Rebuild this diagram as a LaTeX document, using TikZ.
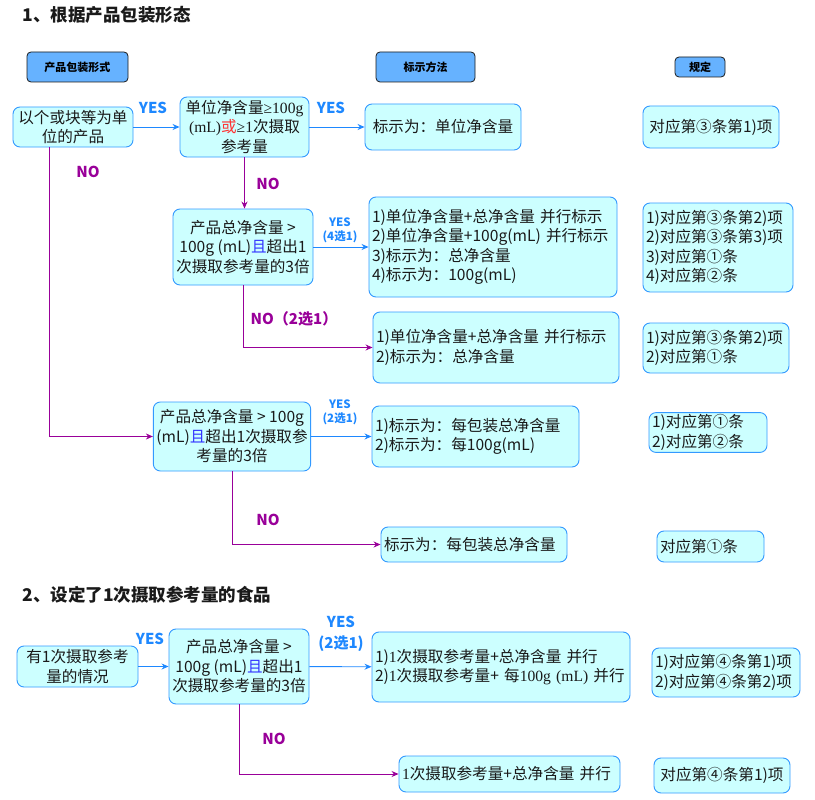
\documentclass[tikz,border=0pt]{standalone}
\usepackage{fontspec}
\setmainfont{Noto Sans CJK SC}
\newfontfamily\serifnum{Liberation Serif}
\usetikzlibrary{positioning,arrows.meta}
\definecolor{boxfill}{HTML}{CCFFFF}
\definecolor{boxblue}{HTML}{3399FF}
\definecolor{headfill}{HTML}{66B2FF}
\definecolor{yesblue}{HTML}{1E88FF}
\definecolor{nopurple}{HTML}{990099}
\definecolor{orred}{HTML}{FF3333}
\definecolor{andblue}{HTML}{3333FF}
\definecolor{inktext}{HTML}{1A1A1A}
\newcommand\boxfont{\fontsize{15.6}{19.5}\selectfont}
\tikzset{
    flowbox/.style={rounded corners=7pt,draw=boxblue,fill=boxfill,line width=0.9pt,
        inner xsep=3pt,inner ysep=2pt,text=inktext,font=\boxfont,align=center},
    listbox/.style={flowbox,align=left},
    headbox/.style={rounded corners=4pt,draw=inktext,fill=headfill,line width=0.8pt,
        font=\bfseries\fontsize{11}{13}\selectfont},
    secttitle/.style={anchor=west,text=inktext,font=\bfseries\fontsize{17.5}{20}\selectfont},
    yeslbl/.style={text=yesblue,font=\bfseries\fontsize{15}{21}\selectfont,align=center},
    yessmall/.style={text=yesblue,font=\bfseries\fontsize{11.5}{14}\selectfont,align=center},
    nolbl/.style={text=nopurple,font=\bfseries\fontsize{15}{17}\selectfont},
    yesarrow/.style={draw=yesblue,line width=0.9pt,-{Stealth[length=7pt,width=6pt]}},
    noarrow/.style={draw=nopurple,line width=0.9pt,-{Stealth[length=7pt,width=6pt]}}
}

\begin{document}
\begin{tikzpicture}[x=1pt,y=-1pt]
\useasboundingbox (0,0) rectangle (815,800);

% section 1
\node[secttitle] (ttl1) at (19,15) {1、根据产品包装形态};
\node[headbox,minimum width=101pt,minimum height=30pt] (hdform) at (77.5,67) {产品包装形式};
\node[headbox,minimum width=99pt,minimum height=30pt] (hdmark) at (425.5,67) {标示方法};
\node[headbox,minimum width=50pt,minimum height=20pt] (hdrule) at (700,67) {规定};

\node[flowbox,minimum width=120pt,minimum height=40pt] (prod) at (73,127) {以个或块等为单\\位的产品};
\node[flowbox,minimum width=129pt,minimum height=60pt] (unitq) at (244.5,127)
    {单位净含量{\serifnum ≥100g}\\{\serifnum (mL)}\textcolor{orred}{或}{\serifnum ≥1}次摄取\\参考量};
\node[flowbox,minimum width=156pt,minimum height=46pt] (unitlbl) at (443,127) {标示为：单位净含量};
\node[flowbox,minimum width=136pt,minimum height=42pt] (rule1) at (711,127) {对应第③条第1)项};

\node[flowbox,minimum width=140pt,minimum height=76pt] (total1) at (243,247)
    {产品总净含量 >\\100g (mL)\textcolor{andblue}{且}超出1\\次摄取参考量的3倍};
\node[listbox,text width=242pt,minimum height=100pt] (opt4) at (493,247)
    {1)单位净含量+总净含量 并行标示\\2)单位净含量+100g(mL) 并行标示\\3)标示为：总净含量\\4)标示为：100g(mL)};
\node[listbox,text width=144pt,minimum height=89pt] (rule2) at (718,247.5)
    {1)对应第③条第2)项\\2)对应第③条第3)项\\3)对应第①条\\4)对应第②条};
\node[listbox,text width=240pt,minimum height=71pt] (opt2) at (496,347.5)
    {1)单位净含量+总净含量 并行标示\\2)标示为：总净含量};
\node[listbox,text width=140pt,minimum height=50pt] (rule3) at (716,348)
    {1)对应第③条第2)项\\2)对应第①条};

\node[flowbox,minimum width=154pt,minimum height=69pt] (total2) at (232,436.5)
    {产品总净含量 > 100g\\(mL)\textcolor{andblue}{且}超出1次摄取参\\考量的3倍};
\node[listbox,text width=201pt,minimum height=61pt] (pack2) at (475.5,436.5)
    {1)标示为：每包装总净含量\\2)标示为：每100g(mL)};
\node[listbox,text width=112pt,minimum height=39pt] (rule4) at (708,432.5)
    {1)对应第①条\\2)对应第②条};
\node[listbox,text width=180pt,minimum height=35pt] (packonly) at (474,544.5) {标示为：每包装总净含量};
\node[listbox,text width=101pt,minimum height=31pt] (rule5) at (710.5,546.5) {对应第①条};

\node[yeslbl] (yesa) at (153,108) {YES};
\node[yeslbl] (yesb) at (331,108) {YES};
\node[nolbl] (noa) at (88,172) {NO};
\node[nolbl] (nob) at (268,184) {NO};
\node[yessmall] (yesc) at (340,230) {YES\\(4选1)};
\node[nolbl] (noc) at (294,319) {NO（2选1）};
\node[yessmall] (yesd) at (340,412) {YES\\(2选1)};
\node[nolbl] (nod) at (268,520) {NO};

\draw[yesarrow] (prod) -- (unitq);
\draw[yesarrow] (unitq) -- (unitlbl);
\draw[noarrow] (unitq.south) -- (unitq.south |- total1.north);
\draw[noarrow] ([xshift=-24pt]prod.south) |- (total2.west);
\draw[yesarrow] (total1) -- (opt4);
\draw[noarrow] (total1.south) |- (opt2.west);
\draw[yesarrow] (total2) -- (pack2);
\draw[noarrow] (total2.south) |- (packonly.west);

% section 2
\node[secttitle] (ttl2) at (19,595) {2、设定了1次摄取参考量的食品};

\node[flowbox,minimum width=121pt,minimum height=41pt] (ref) at (77.5,666.5) {有1次摄取参考\\量的情况};
\node[flowbox,minimum width=140pt,minimum height=75pt] (total3) at (239,666.5)
    {产品总净含量 >\\100g (mL)\textcolor{andblue}{且}超出1\\次摄取参考量的3倍};
\node[listbox,text width=252pt,minimum height=70pt] (ref2) at (501,667)
    {1){\serifnum 1}次摄取参考量+总净含量 并行\\2){\serifnum 1}次摄取参考量+ 每{\serifnum 100g (mL)} 并行};
\node[listbox,text width=142pt,minimum height=49pt] (rule6) at (726,672.5)
    {1)对应第④条第1)项\\2)对应第④条第2)项};
\node[listbox,text width=215pt,minimum height=36pt] (refonly) at (509.5,774)
    {{\serifnum 1}次摄取参考量+总净含量 并行};
\node[flowbox,minimum width=136pt,minimum height=35pt] (rule7) at (722,775.5) {对应第④条第1)项};

\node[yeslbl] (yese) at (150,639) {YES};
\node[yeslbl] (yesf) at (341,634) {YES\\(2选1)};
\node[nolbl] (noe) at (274,739) {NO};

\draw[yesarrow] (ref) -- (total3);
\draw[yesarrow] (total3) -- (ref2);
\draw[noarrow] (total3.south) |- (refonly.west);
\end{tikzpicture}
\end{document}
